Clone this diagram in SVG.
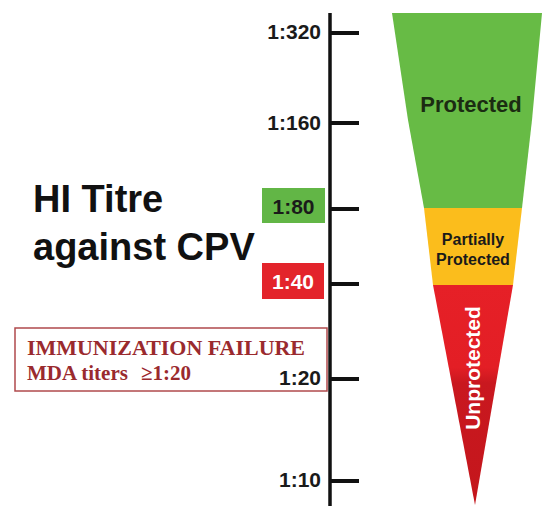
<svg xmlns="http://www.w3.org/2000/svg" width="543" height="506" viewBox="0 0 543 506">
  <style>
    .tick { stroke: #111; stroke-width: 4; }
    .lbl { font-family: "Liberation Sans", Arial, sans-serif; font-weight: bold; font-size: 21px; fill: #1a1a1a; text-anchor: end; }
    .title { font-family: "Liberation Sans", Arial, sans-serif; font-weight: bold; font-size: 38px; fill: #111; }
    .serif { font-family: "Liberation Serif", "Times New Roman", serif; font-weight: bold; font-size: 21px; fill: #9a2a2e; }
    .zone { font-family: "Liberation Sans", Arial, sans-serif; font-weight: bold; text-anchor: middle; }
  </style>
  <defs>
    <linearGradient id="redgrad" x1="0" y1="284" x2="0" y2="504" gradientUnits="userSpaceOnUse">
      <stop offset="0" stop-color="#e62027"/>
      <stop offset="0.38" stop-color="#e31e25"/>
      <stop offset="0.45" stop-color="#c9181f"/>
      <stop offset="1" stop-color="#c4161c"/>
    </linearGradient>
  </defs>
  <rect width="543" height="506" fill="#ffffff"/>

  <g id="title">
    <text class="title" x="33" y="212">HI Titre</text>
    <text class="title" x="33" y="260">against CPV</text>
  </g>

  <g id="axis">
    <line x1="330" y1="13" x2="330" y2="506" stroke="#111" stroke-width="3.5"/>
    <line class="tick" x1="330" y1="33" x2="359" y2="33"/>
    <line class="tick" x1="330" y1="123" x2="359" y2="123"/>
    <line class="tick" x1="330" y1="209" x2="359" y2="209"/>
    <line class="tick" x1="330" y1="284" x2="359" y2="284"/>
    <line class="tick" x1="330" y1="379" x2="359" y2="379"/>
    <line class="tick" x1="330" y1="481" x2="359" y2="481"/>
  </g>

  <g id="label-320"><text class="lbl" x="321" y="39">1:320</text></g>
  <g id="label-160"><text class="lbl" x="321" y="130">1:160</text></g>
  <g id="label-80">
    <rect x="262" y="188" width="63" height="35" fill="#62b646"/>
    <text class="lbl" x="293.5" y="214" style="text-anchor:middle" font-size="20">1:80</text>
  </g>
  <g id="label-40">
    <rect x="262" y="263" width="62" height="36" fill="#e3242b"/>
    <text class="lbl" x="293" y="289" style="text-anchor:middle;fill:#ffffff" font-size="20">1:40</text>
  </g>

  <g id="immunization-failure">
    <rect x="15" y="328" width="312" height="63" fill="#ffffff" stroke="#b04a4c" stroke-width="1.5"/>
    <text class="serif" x="27" y="355" textLength="278" lengthAdjust="spacingAndGlyphs">IMMUNIZATION FAILURE</text>
    <text class="serif" x="27" y="380">MDA titers<tspan x="141">≥1:20</tspan></text>
  </g>
  <g id="label-20"><text class="lbl" x="321" y="385">1:20</text></g>
  <g id="label-10"><text class="lbl" x="321" y="487">1:10</text></g>

  <g id="funnel-protected">
    <polygon points="392,13 542,13 532,120 522,208 424,208 408,120" fill="#67bb45"/>
    <text class="zone" x="471" y="112" font-size="22" fill="#1b2c12">Protected</text>
  </g>
  <g id="funnel-partial">
    <polygon points="424,208 522,208 513,285 433,285" fill="#fbbd1c"/>
    <text class="zone" x="473" y="245" font-size="16" fill="#1a1a1a">Partially</text>
    <text class="zone" x="473" y="265" font-size="16" fill="#1a1a1a">Protected</text>
  </g>
  <g id="funnel-unprotected">
    <polygon points="433,285 513,285 475,505" fill="url(#redgrad)"/>
    <text class="zone" transform="translate(480,368) rotate(-90)" x="0" y="0" font-size="21" fill="#ffffff">Unprotected</text>
  </g>
</svg>
